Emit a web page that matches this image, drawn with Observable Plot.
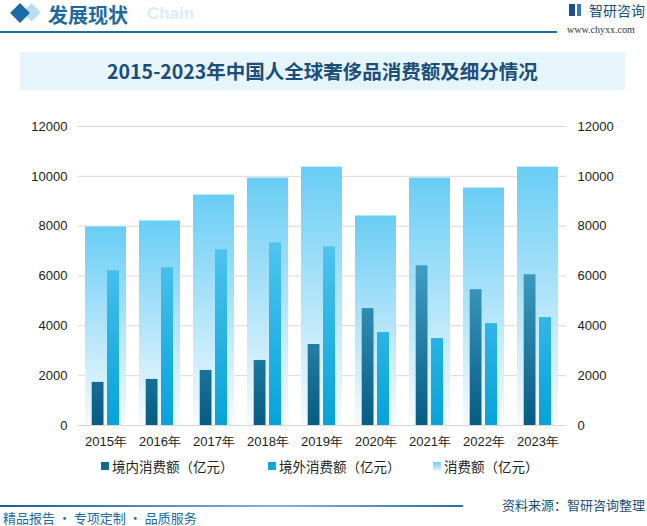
<!DOCTYPE html>
<html><head><meta charset="utf-8">
<script src="https://cdn.jsdelivr.net/npm/d3@7"></script>
<script src="https://cdn.jsdelivr.net/npm/@observablehq/plot@0.6"></script>
<style>
body{margin:0;background:#fff;font-family:"Noto Sans CJK SC","Liberation Sans",sans-serif;}
#page{position:relative;width:647px;height:526px;overflow:hidden;background:#fff;}
.abs{position:absolute;white-space:nowrap;}
#chart{position:absolute;left:0;top:110px;}
.leg{position:absolute;top:458px;font-size:13.5px;color:#222;line-height:16px;display:flex;align-items:center;}
.leg i{display:inline-block;width:8px;height:8px;margin-right:3px;}
</style></head><body><div id="page">
  <div class="abs" style="left:25px;top:6px;width:13px;height:13px;background:#b9dcf1;transform:rotate(45deg);"></div>
  <div class="abs" style="left:13px;top:6px;width:14px;height:14px;background:#1c6ba5;transform:rotate(45deg);"></div>
  <div class="abs" style="left:147px;top:4px;font-size:17px;font-weight:bold;color:#dcedf8;font-family:'Liberation Sans',sans-serif;">Chain</div>
  <div class="abs" style="left:48px;top:0px;font-size:20px;font-weight:bold;color:#1d6aa0;">发展现状</div>
  <div class="abs" style="left:0;top:31px;width:557px;height:2px;background:#1f6d9f;"></div>
  <div class="abs" style="left:569px;top:4px;width:6px;height:12px;background:#1a4f8a;"></div>
  <div class="abs" style="left:577px;top:4px;width:4px;height:12px;background:#2f7fc0;"></div>
  <div class="abs" style="left:589px;top:0px;font-size:14px;color:#1a4f7a;">智研咨询</div>
  <div class="abs" style="left:567px;top:24px;font-size:10px;color:#333;font-family:'Liberation Serif',serif;">www.chyxx.com</div>
  <div class="abs" style="left:20px;top:52px;width:605px;height:38px;background:#e6f4fb;"></div>
  <div class="abs" style="left:20px;top:52px;width:605px;height:38px;line-height:38px;text-align:center;font-size:19.5px;font-weight:bold;color:#1b4e7a;" id="title"></div>
  <div id="chart"></div>
  <div class="leg" style="left:101px;" id="leg0"></div>
  <div class="leg" style="left:268px;" id="leg1"></div>
  <div class="leg" style="left:433px;" id="leg2"></div>
  <div class="abs" style="left:0;top:505px;width:463px;height:2px;background:linear-gradient(90deg,#1b5f8e,#7fb6d8 60%,#2a6f9e);"></div>
  <div class="abs" style="left:502px;top:495px;font-size:13px;color:#1a4f7a;" id="source"></div>
  <div class="abs" style="left:3px;top:508px;font-size:13px;color:#1d6aa0;" id="slogan"></div>
</div>
<script>
const titleText = "2015-2023年中国人全球奢侈品消费额及细分情况";
const years = ["2015年","2016年","2017年","2018年","2019年","2020年","2021年","2022年","2023年"];
const domestic = [1730,1850,2210,2610,3250,4690,6410,5450,6050];
const overseas = [6210,6330,7050,7330,7170,3730,3490,4090,4330];
const total = [7970,8210,9250,9930,10370,8410,9930,9530,10370];
const yTicks = [0,2000,4000,6000,8000,10000,12000];
const seriesNames = ["境内消费额（亿元）","境外消费额（亿元）","消费额（亿元）"];
const sourceText = "资料来源：智研咨询整理";
const sloganText = "精品报告 · 专项定制 · 品质服务";

document.getElementById("title").textContent = titleText;
document.getElementById("source").textContent = sourceText;
document.getElementById("slogan").textContent = sloganText;
const legFills = ["#0f6a90","#0ea8df","linear-gradient(#6ccdf5,#d8f1fc)"];
seriesNames.forEach((n,i)=>{
  const el = document.getElementById("leg"+i);
  el.innerHTML = `<i style="background:${legFills[i]}"></i><span>${n}</span>`;
});

const rows = years.map((y,i)=>({year:y, domestic:domestic[i], overseas:overseas[i], total:total[i]}));

const chart = Plot.plot({
  width:647, height:345, marginTop:16, marginBottom:30, marginLeft:78, marginRight:81,
  style:{fontSize:"13px", fontFamily:"'Liberation Sans', sans-serif", color:"#222", background:"transparent", overflow:"visible"},
  x:{domain:years, paddingInner:0.234, paddingOuter:0.117, label:null, tickSize:0, tickPadding:11},
  y:{domain:[0,12000], ticks:yTicks, axis:"both", label:null, tickSize:0, tickPadding:11, tickFormat:d=>String(d)},
  marks:[
    Plot.ruleY(yTicks,{stroke:"#d9d9d9", strokeWidth:1}),
    Plot.barY(rows,{x:"year", y:"total", fill:"url(#gTotal)"}),
    Plot.barY(rows,{x:"year", y:"domestic", fill:"url(#gDom)", insetLeft:6.7, insetRight:22.5}),
    Plot.barY(rows,{x:"year", y:"overseas", fill:"url(#gOver)", insetLeft:22, insetRight:7})
  ]
});
document.getElementById("chart").appendChild(chart);

const ys = chart.scale("y");
const ytop = ys.apply(7500), ybot = ys.apply(0);
const defs = d3.select(chart).insert("defs", ":first-child");
function grad(id, c1, c2, user){
  const g = defs.append("linearGradient").attr("id", id).attr("x1",0).attr("x2",0);
  if (user) g.attr("gradientUnits","userSpaceOnUse").attr("y1",ytop).attr("y2",ybot);
  else g.attr("y1",0).attr("y2",1);
  g.append("stop").attr("offset","0").attr("stop-color",c1);
  g.append("stop").attr("offset","1").attr("stop-color",c2);
}
grad("gTotal","#69cdf5","#f6fbfe",false);
grad("gDom","#4aa8ce","#065c83",true);
grad("gOver","#52c5ef","#04a3da",true);
</script>
</body></html>
